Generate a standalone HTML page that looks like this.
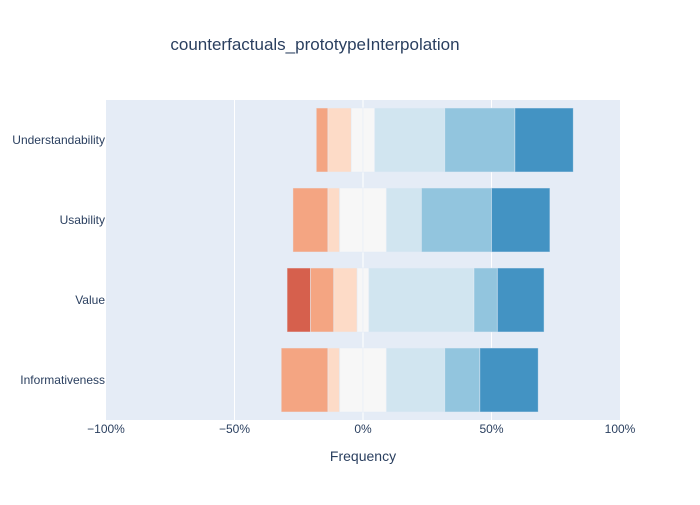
<!DOCTYPE html>
<html><head><meta charset="utf-8"><style>
body{margin:0;background:#fff}
svg text{font-family:"Liberation Sans",Arial,sans-serif}
</style></head><body>
<svg id="chart" width="700" height="500" xmlns="http://www.w3.org/2000/svg">
<rect x="0" y="0" width="700" height="500" fill="#fff"/>
<text x="315" y="50" text-anchor="middle" font-size="17" fill="#2a3f5f">counterfactuals_prototypeInterpolation</text>
<rect x="106" y="100" width="514" height="320" fill="#e5ecf6"/>
<g id="grid"></g>
<g id="bars"></g>
<g id="ticks"></g>
<g id="ylabels"></g>
<text x="363" y="461" text-anchor="middle" font-size="14" fill="#2a3f5f">Frequency</text>
</svg>
<script>
const categories = ["Understandability","Usability","Value","Informativeness"];
const levels = ["Strongly disagree","Disagree","Somewhat disagree","Neutral","Somewhat agree","Agree","Strongly agree"];
const stronglyDisagree = [0,0,2,0];
const disagree = [1,3,2,4];
const somewhatDisagree = [2,1,2,1];
const neutral = [2,4,1,4];
const somewhatAgree = [6,3,9,5];
const agree = [6,6,2,3];
const stronglyAgree = [5,5,4,5];
const tickValues = [-100,-50,0,50,100];
const tickLabels = ["\u2212100%","\u221250%","0%","50%","100%"];

const colors = ["#d6604d","#f4a582","#fddbc7","#f7f7f7","#d1e5f0","#92c5de","#4393c3"];
const NS = "http://www.w3.org/2000/svg";
const X0 = 106, X1 = 620, Y0 = 100, Y1 = 420;
const xs = v => X0 + (v + 100) / 200 * (X1 - X0);
const band = (Y1 - Y0) / categories.length;
const yc = i => Y0 + band * (i + 0.5);
const barH = 64;
function mk(tag, attrs){const e=document.createElementNS(NS,tag);for(const k in attrs)e.setAttribute(k,attrs[k]);return e;}

const grid = document.getElementById('grid');
[-50,0,50].forEach(v=>{
  const l = mk('line',{x1:xs(v),x2:xs(v),y1:Y0,y2:Y1,stroke:'#fff','stroke-width':1});
  
  
  grid.appendChild(l);
});

const ticks = document.getElementById('ticks');
tickValues.forEach((v,i)=>{
  const t = mk('text',{x:xs(v),y:433,'text-anchor':'middle','font-size':12,fill:'#2a3f5f'});
  t.textContent = tickLabels[i];
  
  
  ticks.appendChild(t);
});

const ylabels = document.getElementById('ylabels');
const bars = document.getElementById('bars');
const series = [stronglyDisagree,disagree,somewhatDisagree,neutral,somewhatAgree,agree,stronglyAgree];
function seg(x0v, x1v, i, k, label){
  const r = mk('rect',{x:xs(x0v),y:yc(i)-barH/2,width:xs(x1v)-xs(x0v),height:barH,fill:colors[k],stroke:'rgba(229,236,246,0.6)','stroke-width':0.8});
  
  
  const tt = mk('title',{}); tt.textContent = label;
  r.appendChild(tt);
  bars.appendChild(r);
}
categories.forEach((c,i)=>{
  const t = mk('text',{x:105,y:yc(i)+4,'text-anchor':'end','font-size':12,fill:'#2a3f5f'});
  t.textContent = c;
  
  
  ylabels.appendChild(t);
  const vals = series.map(s=>s[i]);
  const n = vals.reduce((a,b)=>a+b,0);
  const pct = vals.map(v=>v/n*100);
  let start = -(pct[0]+pct[1]+pct[2]+pct[3]/2);
  pct.forEach((p,k)=>{
    if(p<=0){return;}
    const label = c+' - '+levels[k]+': '+p.toFixed(1)+'%';
    if(k===3){
      seg(start, start+p/2, i, k, label);
      seg(start+p/2, start+p, i, k, label);
    } else {
      seg(start, start+p, i, k, label);
    }
    start += p;
  });
});
</script>
</body></html>
